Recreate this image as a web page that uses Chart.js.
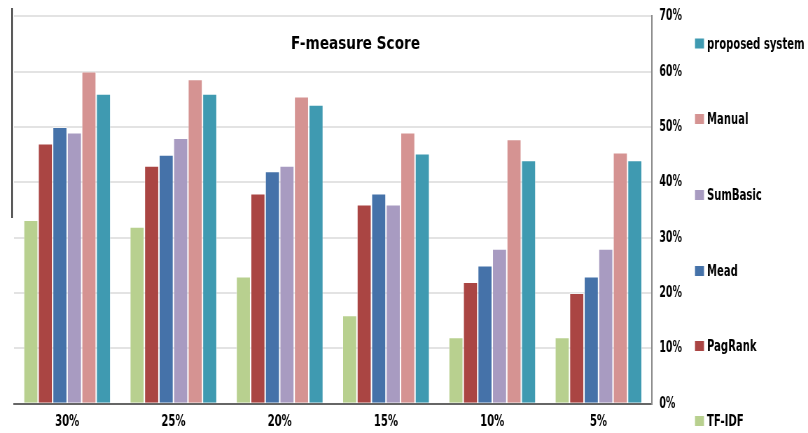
<!DOCTYPE html>
<html>
<head>
<meta charset="utf-8">
<script src="https://cdn.jsdelivr.net/npm/chart.js@4/dist/chart.umd.min.js"></script>
<style>
html,body{margin:0;padding:0;background:#fff;overflow:hidden;}
#wrap{width:808px;height:433px;position:relative;overflow:hidden;}
#c{position:absolute;left:0;top:0;transform:scaleX(0.70017);transform-origin:0 0;}
</style>
</head>
<body>
<div id="wrap"><canvas id="c" width="1154" height="433"></canvas></div>
<script>
const categories = ["30%", "25%", "20%", "15%", "10%", "5%"];
const seriesNames = ["TF-IDF", "PagRank", "Mead", "SumBasic", "Manual", "proposed system"];
const tfidf    = [33.2, 32, 23, 16, 12, 12];
const pagrank  = [47, 43, 38, 36, 22, 20];
const mead     = [50, 45, 42, 38, 25, 23];
const sumbasic = [49, 48, 43, 36, 28, 28];
const manual   = [60, 58.6, 55.5, 49, 47.8, 45.4];
const proposed = [56, 56, 54, 45.2, 44, 44];
const yTicks = [0, 10, 20, 30, 40, 50, 60, 70];
const chartTitle = "F-measure Score";

const colors = ["#b8d08f", "#aa4543", "#4572a9", "#a89bc1", "#d59392", "#3f9ab1"];
const values = [tfidf, pagrank, mead, sumbasic, manual, proposed];

const FONT = "'DejaVu Sans Condensed', 'DejaVu Sans', sans-serif";
const S = 808 / 1154; // horizontal compression applied by CSS

const extras = {
  id: 'extras',
  afterDraw(chart) {
    const ctx = chart.ctx;
    ctx.save();
    ctx.fillStyle = '#000';
    ctx.font = "bold 18px " + FONT;
    ctx.textBaseline = 'middle';
    ctx.textAlign = 'center';
    const tw = ctx.measureText(chartTitle).width;
    const want = 129 / S;
    ctx.save();
    ctx.translate(355.5 / S, 44.5);
    ctx.scale(want / tw, 1);
    ctx.fillText(chartTitle, 0, 0);
    ctx.restore();
    ctx.strokeStyle = '#222';
    ctx.lineWidth = 2;
    ctx.beginPath();
    ctx.moveTo(12 / S, 8);
    ctx.lineTo(12 / S, 218);
    ctx.stroke();
    ctx.font = "bold 16px " + FONT;
    ctx.textAlign = 'left';
    const ds = chart.data.datasets;
    const ys = [421, 346, 271, 195, 119, 43.5];
    for (let i = 0; i < ds.length; i++) {
      const y = ys[i];
      ctx.fillStyle = ds[i].backgroundColor;
      ctx.fillRect(695 / S, y - 5, 9 / S, 10);
      ctx.fillStyle = '#000';
      ctx.fillText(ds[i].label, 707 / S, y + 1);
    }
    ctx.restore();
  }
};

new Chart(document.getElementById('c'), {
  type: 'bar',
  data: {
    labels: categories,
    datasets: seriesNames.map((n, i) => ({
      label: n,
      data: values[i],
      backgroundColor: colors[i],
      borderColor: 'rgba(255,255,255,0.55)',
      borderWidth: 1,
      barPercentage: 1,
      categoryPercentage: 0.82
    }))
  },
  options: {
    responsive: false,
    animation: false,
    devicePixelRatio: 1,
    layout: { padding: { left: 20, right: 169, top: 0, bottom: -6 } },
    plugins: {
      legend: { display: false },
      tooltip: { enabled: false },
      title: { display: false }
    },
    scales: {
      x: {
        grid: { display: false, drawTicks: false },
        border: { display: true, color: '#666', width: 2 },
        ticks: { color: '#000', font: { family: FONT, size: 16, weight: 'bold' }, padding: 8 }
      },
      y: {
        position: 'right',
        min: 0, max: 70,
        afterBuildTicks(axis) { axis.ticks = yTicks.map(v => ({ value: v })); },
        grid: { color: '#e3e3e3', lineWidth: 2, drawTicks: false },
        border: { display: true, color: '#888', width: 2 },
        ticks: { color: '#000', font: { family: FONT, size: 15, weight: 'bold', lineHeight: 0.7 }, padding: 11,
          callback: v => v + '%' }
      }
    }
  },
  plugins: [extras]
});
</script>
</body>
</html>
